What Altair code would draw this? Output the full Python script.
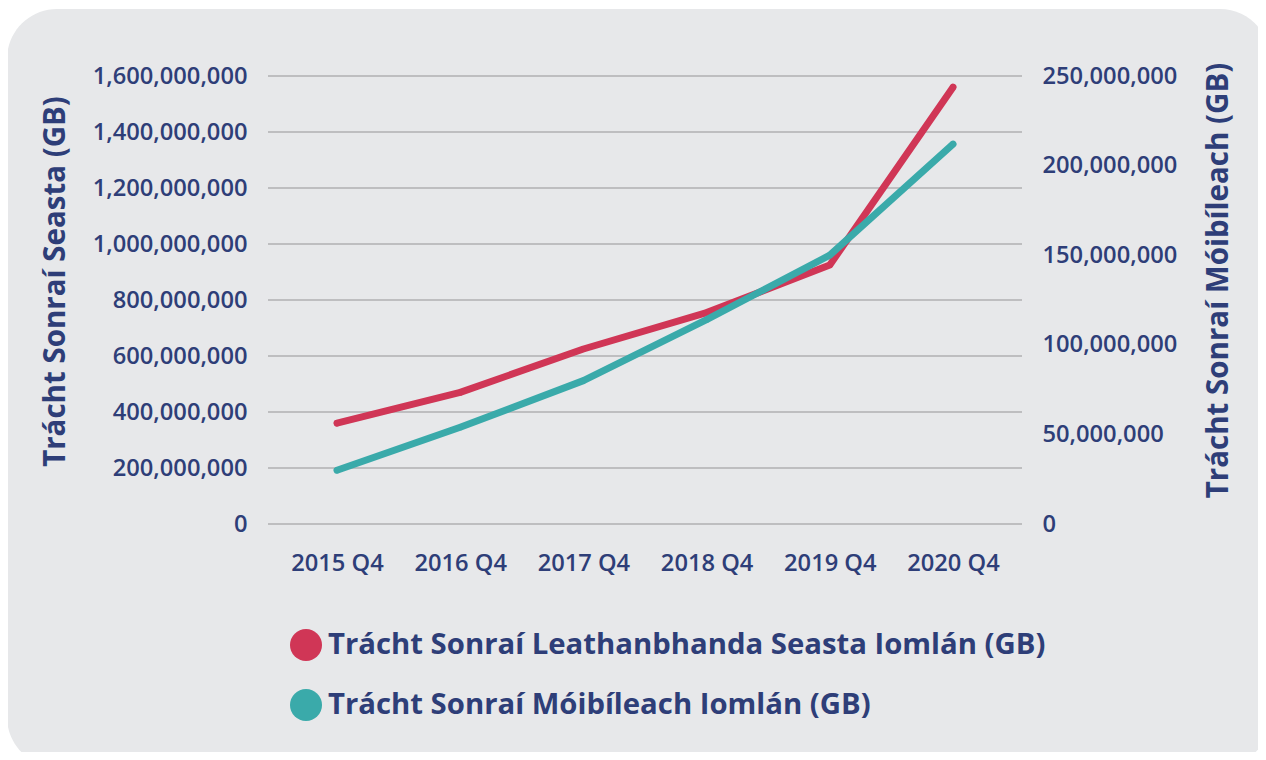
import altair as alt
import pandas as pd

quarters = ["2015 Q4", "2016 Q4", "2017 Q4", "2018 Q4", "2019 Q4", "2020 Q4"]
fixed_gb = [360e6, 470e6, 625e6, 755e6, 925e6, 1560e6]
mobile_gb = [30e6, 54e6, 80e6, 114e6, 150e6, 212e6]
left_ticks = [0, 200e6, 400e6, 600e6, 800e6, 1000e6, 1200e6, 1400e6, 1600e6]
right_ticks = [0, 50e6, 100e6, 150e6, 200e6, 250e6]

series_fixed = "Trácht Sonraí Leathanbhanda Seasta Iomlán (GB)"
series_mobile = "Trácht Sonraí Móibíleach Iomlán (GB)"
left_title = "Trácht Sonraí Seasta (GB)"
right_title = "Trácht Sonraí Móibíleach (GB)"

RED = "#D03656"
TEAL = "#3AAAAA"
NAVY = "#2E3E78"
PANEL = "#E7E8EA"
GRID = "#BEBEC0"
FONT = "Open Sans"
LABEL_SIZE = 23.7
TITLE_SIZE = 29.5

rows = []
for q, f, m in zip(quarters, fixed_gb, mobile_gb):
    rows.append({"quarter": q, "series": series_fixed, "value": f})
    rows.append({"quarter": q, "series": series_mobile, "value": m})
df = pd.DataFrame(rows)

W, H = 754, 448

color = alt.Color(
    "series:N",
    scale=alt.Scale(domain=[series_fixed, series_mobile], range=[RED, TEAL]),
    legend=alt.Legend(
        title=None,
        orient="none",
        legendX=22,
        legendY=553,
        direction="vertical",
        symbolType="circle",
        symbolSize=1024,
        symbolStrokeWidth=0,
        symbolOpacity=1,
        labelFont=FONT,
        labelFontSize=29.3,
        labelFontWeight="bold",
        labelColor=NAVY,
        labelOffset=6,
        rowPadding=28,
        labelLimit=1000,
        padding=0,
        zindex=2,
    ),
)

x = alt.X(
    "quarter:N",
    sort=quarters,
    scale=alt.Scale(type="point", padding=0.56),
    axis=alt.Axis(
        title=None,
        labelAngle=0,
        labelFont=FONT,
        labelFontSize=LABEL_SIZE,
        labelFontWeight=600,
        labelColor=NAVY,
        labelPadding=27,
        ticks=False,
        domain=False,
        grid=False,
        zindex=2,
    ),
)

y_left = alt.Y(
    "value:Q",
    scale=alt.Scale(domain=[0, 1600000000], nice=False),
    axis=alt.Axis(
        title=left_title,
        values=left_ticks,
        format=",d",
        labelFont=FONT,
        labelFontSize=LABEL_SIZE,
        labelFontWeight=600,
        labelColor=NAVY,
        labelPadding=21,
        ticks=False,
        domain=False,
        grid=False,
        titleFont=FONT,
        titleFontSize=TITLE_SIZE,
        titleFontWeight="bold",
        titleColor=NAVY,
        titleAngle=270,
        titleX=-213,
        titleY=205,
        titleAlign="center",
        titleBaseline="middle",
        zindex=2,
    ),
)

y_right = alt.Y(
    "value:Q",
    scale=alt.Scale(domain=[0, 250000000], nice=False),
    axis=alt.Axis(
        title=right_title,
        orient="right",
        values=right_ticks,
        format=",d",
        labelFont=FONT,
        labelFontSize=LABEL_SIZE,
        labelFontWeight=600,
        labelColor=NAVY,
        labelPadding=20,
        ticks=False,
        domain=False,
        grid=False,
        titleFont=FONT,
        titleFontSize=TITLE_SIZE,
        titleFontWeight="bold",
        titleColor=NAVY,
        titleAngle=270,
        titleX=196,
        titleY=204,
        titleAlign="center",
        titleBaseline="middle",
        zindex=2,
    ),
)

bg = alt.Chart(pd.DataFrame({"k": [0]})).mark_rect(
    color=PANEL, cornerRadius=50
).encode(
    x=alt.value(-261), x2=alt.value(1002), y=alt.value(-67), y2=alt.value(691)
)

grid = alt.Chart(pd.DataFrame({"value": left_ticks})).mark_rule(
    color=GRID, strokeWidth=2
).encode(y=y_left)

fixed_base = alt.Chart(df).transform_filter(alt.datum.series == series_fixed)
fixed_pts = fixed_base.mark_circle(size=38, opacity=1).encode(x=x, y=y_left, color=color)
fixed_line = fixed_base.mark_line(strokeWidth=7, strokeCap="round", strokeJoin="round").encode(
    x=x, y=y_left, color=color
)
fixed_layer = alt.layer(grid, fixed_pts, fixed_line)

mobile_base = alt.Chart(df).transform_filter(alt.datum.series == series_mobile)
mobile_pts = mobile_base.mark_circle(size=38, opacity=1).encode(x=x, y=y_right, color=color)
mobile_line = mobile_base.mark_line(strokeWidth=7, strokeCap="round", strokeJoin="round").encode(
    x=x, y=y_right, color=color
)
mobile_layer = alt.layer(mobile_pts, mobile_line)

chart = alt.layer(bg, fixed_layer, mobile_layer).resolve_scale(
    y="independent"
).properties(
    width=W,
    height=H,
    padding={"left": 260, "top": 68, "right": 236, "bottom": 228},
    autosize=alt.AutoSizeParams(type="none"),
).configure(
    background="white",
).configure_view(
    stroke=None,
)

chart.save("out.html", embed_options={"renderer": "svg", "actions": False})
